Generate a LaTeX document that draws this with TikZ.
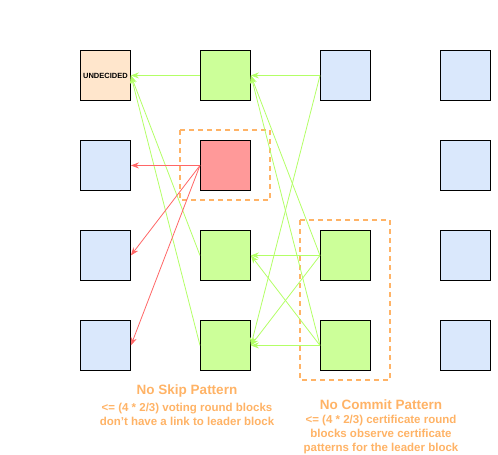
\documentclass[tikz,border=0pt]{standalone}
\usepackage{fontspec}
\setmainfont{Liberation Sans}
\usetikzlibrary{arrows.meta}
\definecolor{bblue}{HTML}{DAE8FC}
\definecolor{bgreen}{HTML}{CCFF99}
\definecolor{bred}{HTML}{FF9999}
\definecolor{borange}{HTML}{FFE6CC}
\definecolor{lgreen}{HTML}{B3FF66}
\definecolor{lred}{HTML}{FF6666}
\definecolor{dorange}{HTML}{FFB366}
\tikzset{
  blk/.style={draw=black, line width=0.9pt, minimum width=50pt, minimum height=50pt, inner sep=0pt, anchor=north west},
  ga/.style={draw=lgreen, line width=0.8pt, -{Stealth[length=8pt,width=6pt,inset=2.5pt]}},
  ra/.style={draw=lred, line width=0.8pt, -{Stealth[length=8pt,width=6pt,inset=2.5pt]}},
  grp/.style={draw=dorange, line width=1.6pt, dash pattern=on 5pt off 4pt},
  lab/.style={text=dorange, align=center}
}
\begin{document}
\begin{tikzpicture}[x=1pt,y=-1pt]
\useasboundingbox (0,0) rectangle (498,455);
% column 1
\node[blk, fill=borange] (a1) at (80,50) {\fontsize{7.5}{8}\selectfont\bfseries UNDECIDED};
\node[blk, fill=bblue] (a2) at (80,140) {};
\node[blk, fill=bblue] (a3) at (80,230) {};
\node[blk, fill=bblue] (a4) at (80,320) {};
% column 2
\node[blk, fill=bgreen] (b1) at (200,50) {};
\node[blk, fill=bred] (b2) at (200,140) {};
\node[blk, fill=bgreen] (b3) at (200,230) {};
\node[blk, fill=bgreen] (b4) at (200,320) {};
% column 3
\node[blk, fill=bblue] (c1) at (320,50) {};
\node[blk, fill=bgreen] (c3) at (320,230) {};
\node[blk, fill=bgreen] (c4) at (320,320) {};
% column 4
\node[blk, fill=bblue] (d1) at (440,50) {};
\node[blk, fill=bblue] (d2) at (440,140) {};
\node[blk, fill=bblue] (d3) at (440,230) {};
\node[blk, fill=bblue] (d4) at (440,320) {};
% groups
\draw[grp] (180,130) rectangle (270,200);
\draw[grp] (300,220) rectangle (390,380);
% green links
\draw[ga] (b1.west) -- (a1.east);
\draw[ga] (c1.west) -- (b1.east);
\draw[ga] (b3.west) -- (a1.east);
\draw[ga] (b4.west) -- (a1.east);
\draw[ga] (c3.west) -- (b1.east);
\draw[ga] (c4.west) -- (b1.east);
\draw[ga] (c3.west) -- (b3.east);
\draw[ga] (c4.west) -- (b3.east);
\draw[ga] (c3.west) -- (b4.east);
\draw[ga] (c4.west) -- (b4.east);
\draw[ga] (c1.west) -- (b4.east);
% red links
\draw[ra] (b2.west) -- (a2.east);
\draw[ra] (b2.west) -- (a3.east);
\draw[ra] (b2.west) -- (a4.east);
% labels
\node[lab, font=\bfseries\fontsize{13.5}{15}\selectfont] (t1) at (187,391) {No Skip Pattern};
\node[lab, font=\bfseries\fontsize{11.5}{14}\selectfont] (t2) at (187,414) {<= (4 * 2/3) voting round blocks\\don't have a link to leader block};
\node[lab, font=\bfseries\fontsize{13.5}{15}\selectfont] (t3) at (381,405) {No Commit Pattern};
\node[lab, font=\bfseries\fontsize{11.5}{14}\selectfont] (t4) at (381,435) {<= (4 * 2/3) certificate round\\blocks observe certificate\\patterns for the leader block};
\end{tikzpicture}
\end{document}
